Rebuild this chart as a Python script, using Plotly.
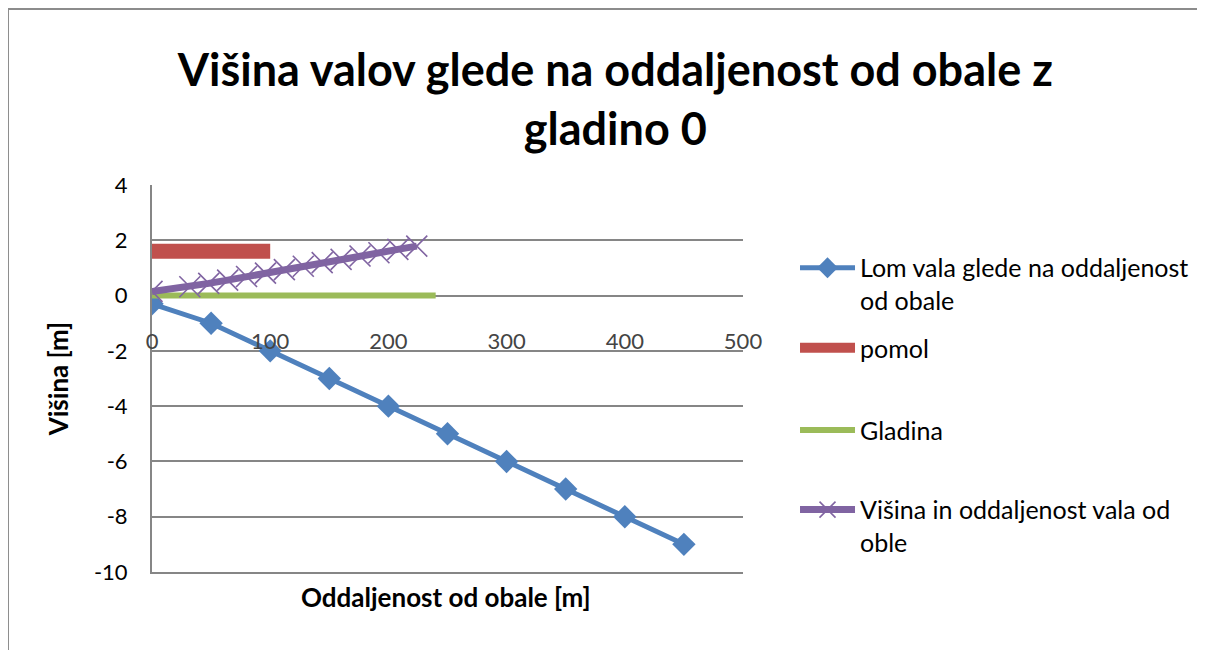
import plotly.graph_objects as go

# podatki odčitani z grafa
lom_x = [0, 50, 100, 150, 200, 250, 300, 350, 400, 450]
lom_y = [-0.3, -1, -2, -3, -4, -5, -6, -7, -8, -9]

pomol_x = [0, 100]
pomol_y = [1.6, 1.6]

gladina_x = [0, 240]
gladina_y = [0, 0]

val_x = [0, 32, 48, 64, 80, 96, 112, 128, 144, 160, 176, 192, 208, 224]
val_y = [0.15, 0.32, 0.44, 0.56, 0.69, 0.81, 0.94, 1.06, 1.19, 1.31, 1.43, 1.55, 1.67, 1.79]

x_ticks = [0, 100, 200, 300, 400, 500]
y_ticks = [4, 2, 0, -2, -4, -6, -8, -10]
y_tick_labels = ["4", "2", "0", "-2", "-4", "-6", "-8", "-10"]

FONT = "Lato"
GRID = "#868686"

fig = go.Figure()

fig.add_trace(go.Scatter(
    x=lom_x, y=lom_y,
    mode="lines+markers",
    name="Lom vala glede na oddaljenost<br>od obale",
    line=dict(color="#4F81BD", width=5),
    marker=dict(symbol="diamond", size=18, color="#4F81BD"),
    legend="legend"
))

fig.add_trace(go.Scatter(
    x=pomol_x, y=pomol_y,
    mode="lines",
    name="pomol",
    line=dict(color="#C0504D", width=15),
    legend="legend2"
))

fig.add_trace(go.Scatter(
    x=gladina_x, y=gladina_y,
    mode="lines",
    name="Gladina",
    line=dict(color="#9BBB59", width=6),
    legend="legend3"
))

fig.add_trace(go.Scatter(
    x=val_x, y=val_y,
    mode="lines+markers",
    name="Višina in oddaljenost vala od<br>oble",
    line=dict(color="#8064A2", width=7),
    marker=dict(symbol="x-thin", size=21, color="#8064A2",
                line=dict(color="#8064A2", width=1.6)),
    legend="legend4"
))

legend_style = dict(
    x=1.088, xanchor="left", yanchor="top",
    font=dict(family=FONT, size=25, color="#000000"),
    bgcolor="rgba(0,0,0,0)",
    itemwidth=55,
    valign="top"
)

fig.update_layout(
    width=1205,
    height=650,
    showlegend=True,
    margin=dict(l=144, r=470, t=177, b=86),
    paper_bgcolor="white",
    plot_bgcolor="white",
    font=dict(family=FONT, size=22, color="#000000"),
    title=dict(
        text="<b>Višina valov glede na oddaljenost od obale z<br>gladino 0</b>",
        x=0.504, xref="container", xanchor="center",
        y=0.880, yref="container", yanchor="middle",
        font=dict(family=FONT, size=45, color="#000000")
    ),
    xaxis=dict(
        range=[0, 500], tickvals=x_ticks,
        showgrid=False, zeroline=False,
        showline=True, linecolor=GRID, linewidth=1.5, ticks="",
        ticklabelposition="inside", ticklabelstandoff=220,
        ticklabeloverflow="allow",
        tickfont=dict(family=FONT, size=22)
    ),
    yaxis=dict(
        range=[-10, 4], tickvals=y_ticks, ticktext=y_tick_labels,
        showgrid=True, gridcolor=GRID, gridwidth=1.5,
        zeroline=False,
        showline=True, linecolor=GRID, linewidth=2,
        ticks="", ticklabelstandoff=18,
        tickfont=dict(family=FONT, size=22),
        title=dict(text="<b>Višina [m]</b>",
                   font=dict(family=FONT, size=26), standoff=18)
    ),
    annotations=[dict(
        text="<b>Oddaljenost od obale [m]</b>",
        xref="paper", yref="paper", x=0.4975, y=-0.0646,
        xanchor="center", yanchor="middle", showarrow=False,
        font=dict(family=FONT, size=26, color="#000000")
    )],
    legend=dict(legend_style, y=0.845),
    legend2=dict(legend_style, y=0.638),
    legend3=dict(legend_style, y=0.426),
    legend4=dict(legend_style, y=0.220),
    shapes=[dict(
        type="rect", xref="paper", yref="paper",
        x0=-0.2437, x1=1.778, y0=-0.25, y1=1.455,
        line=dict(color="#8C8C8C", width=2),
        fillcolor="rgba(0,0,0,0)", layer="below"
    )]
)

fig.write_html("out.html")
